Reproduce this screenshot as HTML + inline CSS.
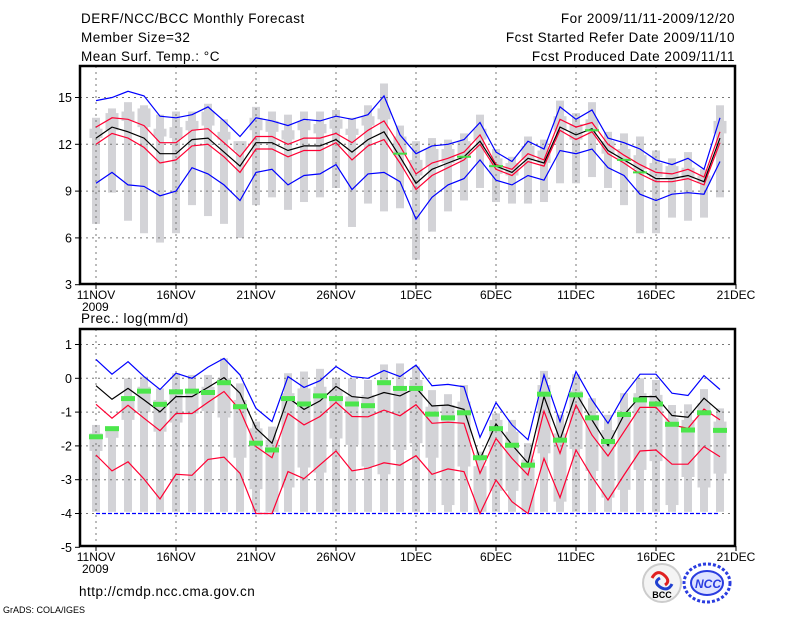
<!DOCTYPE html>
<html><head><meta charset="utf-8"><style>
body{margin:0;background:#fff;width:800px;height:618px;overflow:hidden}
svg{display:block}
text{font-family:"Liberation Sans",sans-serif;fill:#000}
</style></head><body>
<svg id="chart" width="800" height="618" viewBox="0 0 800 618" xmlns="http://www.w3.org/2000/svg">
<g font-size="13.5" letter-spacing="0.5">
<text x="81" y="23">DERF/NCC/BCC Monthly Forecast</text>
<text x="81" y="42">Member Size=32</text>
<text x="81" y="61">Mean Surf. Temp.: °C</text>
<text x="735" y="23" text-anchor="end">For 2009/11/11-2009/12/20</text>
<text x="735" y="42" text-anchor="end">Fcst Started Refer Date 2009/11/10</text>
<text x="735" y="61" text-anchor="end">Fcst Produced Date 2009/11/11</text>
<text x="81" y="323">Prec.: log(mm/d)</text>
<text x="79" y="596">http://cmdp.ncc.cma.gov.cn</text>
</g>
<text x="3" y="613" font-size="9">GrADS: COLA/IGES</text>
<g id="top"></g>
<g id="bot"></g>
<g>
<circle cx="662" cy="583" r="19" fill="#f4f4f4" stroke="#ccc" stroke-width="2"/>
<path d="M652 578 q5 -9 12 -3 q7 6 1 10" fill="none" stroke="#e02020" stroke-width="3"/>
<path d="M672 584 q-4 8 -12 3 q-7 -5 0 -9" fill="none" stroke="#2040d0" stroke-width="3"/>
<text x="662" y="598" font-size="9" text-anchor="middle" font-family="Liberation Serif" font-weight="bold">BCC</text>
</g>
<g>
<ellipse cx="707" cy="583" rx="23" ry="19" fill="none" stroke="#2a3ce0" stroke-width="3" stroke-dasharray="3 2"/>
<ellipse cx="707" cy="583" rx="16" ry="12" fill="#dfe3ff" stroke="#2a3ce0" stroke-width="2"/>
<text x="708" y="588" font-size="12" text-anchor="middle" font-weight="bold" font-style="italic" fill="#2a3ce0" style="fill:#2a3ce0">NCC</text>
</g>
</svg>
<script>
// ---- Temperature data (days 0..39 from 11NOV) ----
const tMean=[12.4,13.1,12.8,12.4,11.4,11.4,12.3,12.4,11.5,10.6,12.1,12.1,11.6,11.9,11.9,12.3,11.5,12.3,12.8,11.2,9.5,10.4,10.8,11.2,12.2,10.6,10.2,11.1,10.8,13.1,12.6,13.0,11.6,11.0,10.4,9.8,9.8,10.0,9.6,12.4];
const tRedHi=[13.1,13.7,13.6,13.2,12.1,12.1,12.9,13.0,12.1,11.2,12.5,12.5,12.0,12.4,12.4,12.7,12.1,12.9,13.5,11.9,10.1,10.8,11.1,11.5,12.6,10.7,10.4,11.4,11.0,13.6,13.1,13.4,12.0,11.3,10.7,10.2,10.1,10.4,9.9,12.8];
const tRedLo=[12.0,12.7,12.4,11.8,10.8,11.0,11.9,12.0,11.2,10.2,11.7,11.7,11.2,11.6,11.6,12.1,11.0,11.9,12.3,10.8,9.1,10.0,10.5,11.0,12.0,10.4,10.0,10.9,10.6,12.9,12.3,12.8,11.4,10.8,10.1,9.6,9.6,9.8,9.4,12.1];
const tBlueHi=[14.8,15.0,15.4,15.1,13.8,13.7,13.9,14.4,13.5,12.5,13.7,13.5,13.2,13.6,13.5,13.8,13.6,13.9,15.1,12.6,11.4,11.9,12.0,12.3,13.4,11.5,10.9,12.2,11.7,14.4,13.6,14.2,12.4,12.1,11.7,11.0,10.7,11.1,10.4,13.7];
const tBlueLo=[9.5,10.2,9.4,9.3,8.7,9.0,10.5,10.1,9.4,8.4,10.2,10.4,9.4,10.0,10.1,10.7,9.1,10.1,10.2,9.6,7.2,8.6,9.4,9.8,11.0,9.7,9.4,10.0,9.7,11.6,11.4,11.7,10.5,10.0,8.8,8.4,8.8,8.9,8.8,10.9];
const tMax=[13.7,14.3,14.7,14.5,13.9,14.1,14.1,14.6,13.6,12.2,14.4,14.1,13.9,14.1,14.1,14.2,13.7,14.5,15.9,13.2,12.2,12.4,12.3,12.7,13.9,11.7,11.2,12.5,12.3,14.8,14.0,14.7,12.8,12.7,12.5,11.6,11.1,11.5,10.4,14.5];
const tMin=[6.9,8.9,7.1,6.3,5.7,6.3,8.1,7.4,6.9,6.0,8.1,8.6,7.8,8.3,8.6,9.2,6.7,8.2,7.7,7.9,4.6,6.4,7.7,8.4,9.2,8.3,8.2,8.2,8.3,9.5,9.5,9.9,9.2,8.1,6.3,6.3,7.3,7.1,7.3,8.6];
const tQ3=[13.0,14.0,14.1,14.3,13.0,13.1,13.5,14.1,12.8,12.2,13.7,13.5,12.9,13.5,13.3,13.6,13.0,13.8,14.3,12.5,11.0,11.7,11.7,12.2,13.0,11.1,10.8,11.9,11.6,13.8,13.3,13.6,12.2,11.7,11.3,10.8,10.6,10.5,10.0,13.5];
const tQ1=[12.4,12.9,13.5,13.1,12.5,12.4,12.9,13.2,12.3,11.6,12.9,12.8,12.3,12.9,12.7,13.0,12.6,13.2,13.6,11.3,10.0,10.6,10.8,11.2,12.3,10.1,10.0,11.0,10.8,12.9,12.3,12.8,11.4,11.0,10.4,9.9,9.8,9.8,9.5,12.7];
const tObsDays=[19,23,25,31,33,34];
const tObsVals=[11.4,11.2,10.6,12.9,11.0,10.2];
const tTicks=[3,6,9,12,15];
// ---- Precipitation data ----
const pMean=[-0.22,-0.62,-0.30,-0.64,-0.99,-0.54,-0.54,-0.27,0.02,-0.44,-1.48,-1.92,-0.57,-0.92,-0.67,-0.24,-0.54,-0.59,-0.42,-0.52,-0.28,-0.82,-0.79,-0.92,-2.39,-1.35,-1.97,-2.51,-0.54,-1.82,-0.44,-1.23,-1.99,-1.08,-0.54,-0.54,-1.10,-1.15,-0.59,-1.0];
const pRedHi=[-0.77,-1.18,-0.80,-1.18,-1.55,-1.04,-1.04,-0.71,-0.39,-0.94,-2.02,-2.35,-1.04,-1.38,-1.13,-0.71,-1.13,-1.14,-0.94,-1.11,-0.78,-1.33,-1.30,-1.33,-2.81,-1.78,-2.37,-2.86,-0.97,-2.22,-0.79,-1.68,-2.30,-1.58,-0.86,-0.86,-1.38,-1.48,-0.91,-1.23];
const pRedLo=[-2.27,-2.74,-2.47,-2.98,-3.57,-2.84,-2.87,-2.40,-2.33,-2.81,-4.0,-4.0,-2.76,-2.97,-2.56,-2.15,-2.74,-2.66,-2.50,-2.57,-2.29,-2.84,-2.68,-2.76,-4.0,-3.01,-3.65,-4.0,-2.37,-3.53,-2.12,-2.91,-3.60,-2.86,-2.15,-2.12,-2.54,-2.54,-2.02,-2.32];
const pBlueHi=[0.56,0.12,0.49,0.05,-0.33,0.15,0.0,0.33,0.59,0.10,-0.89,-1.28,0.05,-0.27,-0.07,0.35,0.05,0.0,0.23,0.05,0.39,-0.22,-0.18,-0.25,-1.75,-0.72,-1.38,-1.82,0.10,-1.28,0.20,-0.64,-1.33,-0.49,0.12,0.12,-0.44,-0.51,0.08,-0.33];
const pBlueLo=[-4,-4,-4,-4,-4,-4,-4,-4,-4,-4,-4,-4,-4,-4,-4,-4,-4,-4,-4,-4,-4,-4,-4,-4,-4,-4,-4,-4,-4,-4,-4,-4,-4,-4,-4,-4,-4,-4,-4,-4];
const pMax=[-1.38,-1.43,0,0.05,-0.3,0.15,0.1,0.1,0.59,-0.15,-1.28,-1.43,0.15,0.2,0.28,0,0,-0.05,0.41,0.44,0.35,-0.35,-0.47,-0.2,-2.17,-1.04,-1.23,-1.92,0.22,-1.08,0.12,-0.59,-1.08,-0.44,0,-0.05,-0.79,-0.77,-0.32,-0.89];
const pMin=[-3.95,-3.95,-3.95,-3.95,-3.95,-3.95,-3.95,-3.95,-3.95,-3.95,-3.95,-3.95,-3.95,-3.95,-3.95,-3.95,-3.95,-3.95,-3.95,-3.95,-3.95,-3.95,-3.95,-3.95,-3.95,-3.95,-3.95,-3.95,-3.95,-3.95,-3.95,-3.95,-3.95,-3.95,-3.95,-3.95,-3.95,-3.95,-3.95,-3.95];
const pQ3=[-1.63,-1.43,-0.54,-0.25,-0.64,-0.35,-0.35,-0.25,0,-0.64,-1.48,-1.82,-0.44,-0.3,-0.25,-0.35,-0.54,-0.49,-0.1,-0.25,-0.05,-0.84,-0.79,-0.69,-2.6,-1.23,-1.58,-2.4,-0.2,-1.63,-0.37,-1.08,-1.53,-0.94,-0.44,-0.49,-1.18,-1.23,-0.74,-1.28];
const pQ1=[-2.15,-1.76,-1.23,-1.0,-1.58,-1.31,-1.04,-0.97,-1.16,-2.35,-3.28,-3.95,-3.23,-2.64,-2.79,-1.78,-1.97,-2.61,-2.84,-2.12,-1.92,-2.35,-3.75,-2.61,-3.95,-3.33,-3.33,-3.95,-2.22,-3.65,-2.09,-2.74,-3.53,-3.3,-2.71,-2.45,-3.75,-2.92,-3.23,-2.82];
const pObs=[-1.73,-1.49,-0.60,-0.38,-0.77,-0.40,-0.38,-0.42,-0.13,-0.84,-1.92,-2.12,-0.60,-0.76,-0.52,-0.60,-0.76,-0.81,-0.13,-0.30,-0.30,-1.06,-1.17,-1.02,-2.35,-1.49,-1.98,-2.57,-0.47,-1.83,-0.49,-1.17,-1.87,-1.07,-0.64,-0.76,-1.36,-1.53,-1.02,-1.54];
const pTicks=[1,0,-1,-2,-3,-4,-5];
const xLabels=["11NOV","16NOV","21NOV","26NOV","1DEC","6DEC","11DEC","16DEC","21DEC"];

const NS="http://www.w3.org/2000/svg";
const X0=80,X1=735;
function xDay(d){return 96+d*16;}
function yTop(v){return 144.3-(v-12)*15.6;}
function yBot(v){return 378.3-v*33.8;}
function mk(parent,tag,attrs){const e=document.createElementNS(NS,tag);for(const k in attrs)e.setAttribute(k,attrs[k]);parent.appendChild(e);return e;}

function panel(g,Y,top,bottom,ticks,name){
  // grid
  for(let i=0;i<xLabels.length-1;i++){
    const l=mk(g,'line',{x1:xDay(i*5),x2:xDay(i*5),y1:top,y2:bottom,stroke:'#777','stroke-dasharray':'2 4','stroke-width':1});
    
    
  }
  ticks.forEach(t=>{
    const y=Y(t);
    if(y>top+2&&y<bottom-2){
      const l=mk(g,'line',{x1:X0,x2:X1,y1:y,y2:y,stroke:'#777','stroke-dasharray':'2 4','stroke-width':1});
      
      
    }
    const tk=mk(g,'line',{x1:X0-5,x2:X0,y1:y,y2:y,stroke:'#000'});
    
    
    const tx=mk(g,'text',{x:X0-8,y:y+4.5,'text-anchor':'end','font-size':12.5});
    tx.textContent=t;
    
    
  });
  xLabels.forEach((lab,i)=>{
    const x=xDay(i*5);
    const tk=mk(g,'line',{x1:x,x2:x,y1:bottom,y2:bottom+5,stroke:'#000'});
    
    
    const tx=mk(g,'text',{x:x,y:bottom+15,'text-anchor':'middle','font-size':12});
    tx.textContent=lab;
    
    
  });
  const yr=mk(g,'text',{x:82,y:bottom+27,'font-size':12});
  yr.textContent='2009';
  
  
}
function boxes(g,Y,mx,mn,q3,q1){
  for(let d=0;d<mx.length;d++){
    const x=xDay(d);
    const w=mk(g,'rect',{x:x-4,y:Y(mx[d]),width:8,height:Y(mn[d])-Y(mx[d]),fill:'#d3d3d7'});
    
    
    const b=mk(g,'rect',{x:x-6.5,y:Y(q3[d]),width:13,height:Math.max(1,Y(q1[d])-Y(q3[d])),fill:'#d3d3d7'});
    
    
  }
}
function line(g,Y,vals,color,name,dash){
  const pts=vals.map((v,d)=>xDay(d)+','+Y(v).toFixed(1)).join(' ');
  const attrs={points:pts,fill:'none',stroke:color,'stroke-width':1.2};
  if(dash)attrs['stroke-dasharray']=dash;
  const p=mk(g,'polyline',attrs);
  
  
}
function frame(g,top,bottom){
  const r=mk(g,'rect',{x:X0,y:top,width:X1-X0,height:bottom-top,fill:'none',stroke:'#000','stroke-width':2.5});
  
  
}

// Top panel
const gt=document.getElementById('top');
const TT=66,TB=284;
boxes(gt,yTop,tMax,tMin,tQ3,tQ1);
panel(gt,yTop,TT,TB,tTicks);
line(gt,yTop,tBlueHi,'#0000ff','temp-upper-bound-line');
line(gt,yTop,tBlueLo,'#0000ff','temp-lower-bound-line');
line(gt,yTop,tRedHi,'#ff0033','temp-upper-spread-line');
line(gt,yTop,tRedLo,'#ff0033','temp-lower-spread-line');
line(gt,yTop,tMean,'#000000','temp-ensemble-mean-line');
tObsDays.forEach((d,i)=>{
  const r=mk(gt,'rect',{x:xDay(d)-7,y:yTop(tObsVals[i])-1,width:14,height:2,fill:'#44dd44'});
  
  
});
frame(gt,TT,TB);

// Bottom panel
const gb=document.getElementById('bot');
const BT=329,BB=546;
boxes(gb,yBot,pMax,pMin,pQ3,pQ1);
panel(gb,yBot,BT,BB,pTicks);
line(gb,yBot,pBlueHi,'#0000ff','precip-upper-bound-line');
line(gb,yBot,pBlueLo,'#0000ff','precip-lower-bound-line','4 2');
line(gb,yBot,pRedHi,'#ff0033','precip-upper-spread-line');
line(gb,yBot,pRedLo,'#ff0033','precip-lower-spread-line');
line(gb,yBot,pMean,'#000000','precip-ensemble-mean-line');
pObs.forEach((v,d)=>{
  const r=mk(gb,'rect',{x:xDay(d)-7,y:yBot(v)-2.5,width:14,height:5,fill:'#4ce64c'});
  
  
});
frame(gb,BT,BB);
</script>
</body></html>
